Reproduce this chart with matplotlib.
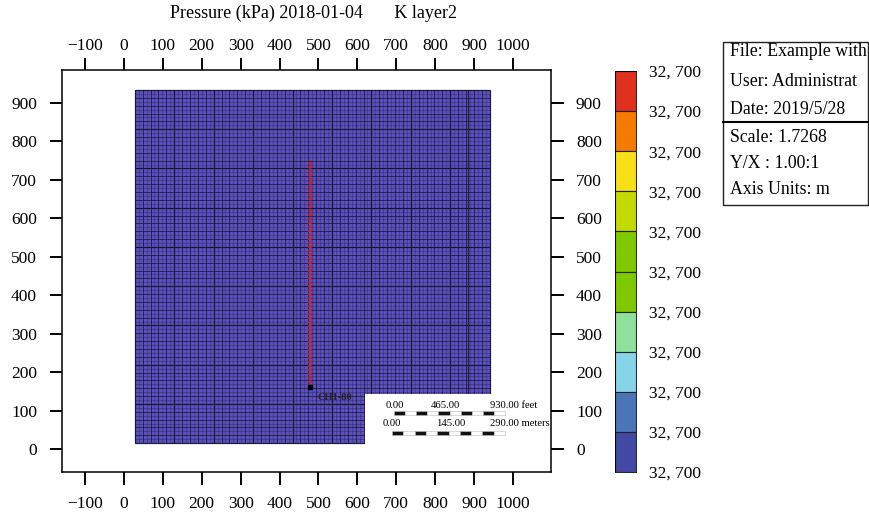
#!/usr/bin/env python3
"""Pressure map of one grid layer, with colour bar, info box and scale bars."""

import numpy as np
import matplotlib
matplotlib.use("Agg")
import matplotlib.pyplot as plt
from matplotlib.patches import Rectangle
from matplotlib.transforms import ScaledTranslation

plt.rcParams["font.family"] = ["Liberation Serif", "DejaVu Serif"]

TITLE = "Pressure (kPa) 2018-01-04       K layer2"
x_ticks = [-100, 0, 100, 200, 300, 400, 500, 600, 700, 800, 900, 1000]
y_ticks = [0, 100, 200, 300, 400, 500, 600, 700, 800, 900]

# grid extent and cell counts (model units)
grid_x = [28, 940]
grid_y = [15, 934]
n_cols = 90
n_rows = 90
mid_every = 2
heavy_every = 10
cutout_x = [620, 1090]
cutout_y = [0, 142]
strip_x = 885

# well trace
well_x = [479, 479]
well_y = [160, 752]
well_label = "CH1-80"

# colour bar, top to bottom
bar_colors = ["#e0301e", "#f47a00", "#f7e017", "#c2da00", "#7ec800",
              "#7ec800", "#8fe09a", "#85d4e8", "#4a76b8", "#4149a4"]
bar_label = "32, 700"

info_top = ["File: Example with", "User: Administrat", "Date: 2019/5/28"]
info_bottom = ["Scale: 1.7268", "Y/X : 1.00:1", "Axis Units: m"]

feet_labels = ["0.00", "465.00", "930.00 feet"]
meter_labels = ["0.00", "145.00", "290.00 meters"]

W, H = 869, 515
fig = plt.figure(figsize=(W / 100, H / 100), dpi=100)


def px_axes(left, top, right, bottom):
    return fig.add_axes([left / W, 1 - bottom / H, (right - left) / W, (bottom - top) / H])


# main map
ax = px_axes(62, 70, 551, 472)
ax.set_xlim(-159, 1097.5)
ax.set_ylim(-60, 986)

xe = np.linspace(grid_x[0], grid_x[1], n_cols + 1)
ye = np.linspace(grid_y[0], grid_y[1], n_rows + 1)
ax.add_patch(Rectangle((grid_x[0], grid_y[0]), grid_x[1] - grid_x[0], grid_y[1] - grid_y[0],
                       fc="#5a50bc", ec="none", zorder=1))
for every, lw, alpha in [(1, 0.4, 0.45), (mid_every, 0.6, 0.7), (heavy_every, 0.9, 0.85)]:
    ax.vlines(xe[::every], grid_y[0], grid_y[1], color="#14142e", lw=lw, alpha=alpha, zorder=2)
    ax.hlines(ye[::every], grid_x[0], grid_x[1], color="#14142e", lw=lw, alpha=alpha, zorder=2)
ax.vlines(strip_x, cutout_y[1], grid_y[1], color="#14142e", lw=0.9, alpha=0.85, zorder=2)
ax.add_patch(Rectangle((cutout_x[0], cutout_y[0]), cutout_x[1] - cutout_x[0], cutout_y[1] - cutout_y[0],
                       fc="white", ec="none", zorder=3))

ax.plot(well_x, well_y, color="#c8202a", lw=2.6, ls=(0, (0.7, 0.4)), zorder=4)
ax.plot(well_x[0], well_y[0], "s", color="black", ms=2.5, zorder=5)
ax.text(498, 128, well_label, fontsize=7.5, color="#222222", fontweight="bold", zorder=5)

ax.set_xticks(x_ticks)
ax.set_yticks(y_ticks)
ax.set_xticklabels([str(v).replace("-", "\u2212") for v in x_ticks])
ax.set_yticklabels([str(v) for v in y_ticks])
ax.tick_params(axis="both", length=9, width=1.4, labelsize=12.5,
               top=True, right=True, labeltop=True, labelright=True)
ax.tick_params(axis="x", pad=8.5)
ax.tick_params(axis="y", pad=9)
# the top labels sit closer to their ticks than the bottom ones
for t in ax.xaxis.get_major_ticks():
    t.label2.set_transform(t.label2.get_transform() + ScaledTranslation(0, -6 / 72, fig.dpi_scale_trans))
for s in ax.spines.values():
    s.set_linewidth(1.1)
fig.text(313 / W, 1 - 13 / H, TITLE, ha="center", va="center", fontsize=13)

# colour bar
cax = px_axes(615, 71, 636, 472)
n = len(bar_colors)
cax.set_xlim(0, 1)
cax.set_ylim(n, 0)
cax.barh(np.arange(n) + 0.5, [1] * n, height=1, color=bar_colors, edgecolor="#222222", linewidth=0.8)
cax.set_xticks([])
cax.yaxis.tick_right()
cax.set_yticks(np.arange(n + 1))
cax.set_yticklabels([bar_label] * (n + 1), fontsize=12.5)
cax.tick_params(axis="y", length=0, pad=9.5)
for s in cax.spines.values():
    s.set_linewidth(0.6)

# overlay in pixel coordinates: info box and scale bars
ov = fig.add_axes([0, 0, 1, 1], facecolor="none")
ov.set_xlim(0, W)
ov.set_ylim(H, 0)
ov.axis("off")

box = Rectangle((723, 42), 145, 163, fc="white", ec="#222222", lw=1.0)
ov.add_patch(box)
ov.plot([723, 868], [122, 122], color="black", lw=1.5)
for txt, y in zip(info_top, [52, 81, 109]):
    ov.text(730, y, txt, fontsize=12.8, va="center", clip_path=box, clip_on=True)
for txt, y in zip(info_bottom, [138, 164, 190]):
    ov.text(730, y, txt, fontsize=12.8, va="center", clip_path=box, clip_on=True)

for labels, xs, ty, x0, x1, by in [
    (feet_labels, [386, 431, 490], 405, 394, 505, 411),
    (meter_labels, [383, 436, 490], 423, 392, 505, 431),
]:
    for txt, xt in zip(labels, xs):
        ov.text(xt, ty, txt, fontsize=7.7, va="center", ha="left")
    step = (x1 - x0) / 10
    for i in range(10):
        ov.add_patch(Rectangle((x0 + i * step, by), step, 4, lw=0.4, ec="#bbbbbb",
                               fc="#111111" if i % 2 == 0 else "white"))

fig.savefig("out.png", dpi=100)
